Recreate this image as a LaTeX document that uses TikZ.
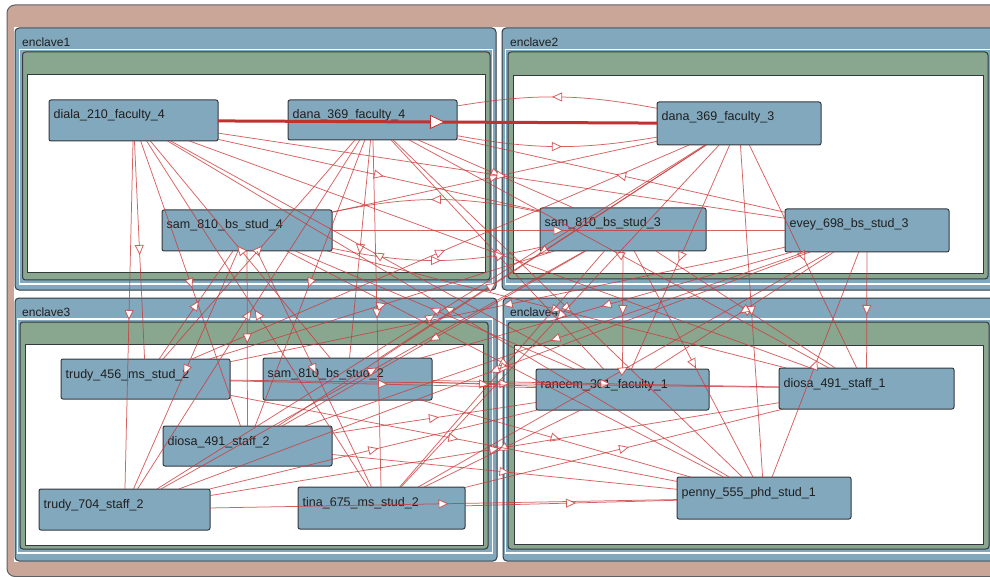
\documentclass[tikz,border=0pt]{standalone}
\usepackage{fontspec}
\setmainfont{Liberation Sans}
\usetikzlibrary{arrows.meta,decorations.markings,calc}

\definecolor{framebrown}{RGB}{201,166,152}
\definecolor{enclblue}{RGB}{130,168,189}
\definecolor{enclgreen}{RGB}{137,167,143}
\definecolor{rimgray}{RGB}{52,57,62}
\definecolor{linkred}{RGB}{204,58,58}
\definecolor{heavyred}{RGB}{192,50,50}

\tikzset{
  x=1pt, y=1pt,
  hostbox/.style={draw=rimgray, fill=enclblue, line width=1pt,
    rounded corners=2pt, inner sep=0pt, outer sep=0pt},
  hosttext/.style={anchor=base west, inner sep=0pt,
    font=\fontsize{12.5}{14}\selectfont, text=black!88},
  encltext/.style={anchor=base west, inner sep=0pt,
    font=\fontsize{12}{14}\selectfont, text=black!88},
  link/.style={draw=linkred, draw opacity=0.8, line width=0.75pt,
    postaction={decorate},
    decoration={markings, mark=at position 0.5 with
      {\arrow[xshift=5pt]{Triangle[fill=white, length=10pt, width=9pt, line width=0.8pt]}}}},
  heavylink/.style={draw=heavyred, line width=3pt,
    postaction={decorate},
    decoration={markings, mark=at position 0.5 with
      {\arrow[xshift=7.5pt]{Triangle[fill=white, length=15pt, width=14pt, line width=0.8pt]}}}},
  bluebox/.style={draw=rimgray, fill=enclblue, line width=1pt, rounded corners=4pt},
  greenbox/.style={draw=rimgray, fill=enclgreen, line width=1pt, rounded corners=3pt},
  innerbox/.style={draw=rimgray, fill=white, line width=1pt},
  insetline/.style={draw=white, line width=1.2pt},
}

% host: name, left, top, right, bottom (pixels from the top-left), caption
\newcommand{\hostnode}[6]{%
  \node[hostbox, minimum width={(#4-#2)*1pt}, minimum height={(#5-#3)*1pt}]
    (#1) at ({(#2+#4)/2},{-(#3+#5)/2}) {};
  \node[hosttext] (#1-cap) at ({#2+4.5},{-#3-19}) {#6};
}

\begin{document}
\begin{tikzpicture}
\useasboundingbox (0,0) rectangle (990,-577);
\clip (0,0) rectangle (990,-577);

% outer frame
\filldraw[fill=framebrown, draw=rimgray!80, line width=1pt, rounded corners=8pt]
  (7,-5) rectangle (1010,-576.5);
\fill[white] (14,-27) rectangle (1010,-562);

% enclave 1
\filldraw[bluebox] (15,-28) rectangle (496,-290);
\draw[insetline] (19.5,-49.5) rectangle (492.5,-284);
\filldraw[greenbox] (22.5,-52) rectangle (490,-280);
\filldraw[innerbox] (27.5,-75) rectangle (485,-273);
\node[encltext] (enc1) at (22,-46.5) {enclave1};

% enclave 2
\filldraw[bluebox] (502,-28) rectangle (1010,-290);
\draw[insetline] (505.5,-49.5) rectangle (1010,-284);
\filldraw[greenbox] (508,-52) rectangle (988,-279);
\filldraw[innerbox] (513,-76) rectangle (983,-274);
\node[encltext] (enc2) at (510,-46.5) {enclave2};

% enclave 3
\filldraw[bluebox] (15,-298) rectangle (497,-561);
\draw[insetline] (17.5,-319) rectangle (492.5,-553);
\filldraw[greenbox] (20,-322) rectangle (488,-549);
\filldraw[innerbox] (25,-344) rectangle (483,-545);
\node[encltext] (enc3) at (22,-316.5) {enclave3};

% enclave 4
\filldraw[bluebox] (503,-298) rectangle (1010,-561);
\draw[insetline] (505.5,-319) rectangle (993,-553);
\filldraw[greenbox] (508,-322) rectangle (989,-549);
\filldraw[innerbox] (514,-345) rectangle (983,-544);
\node[encltext] (enc4) at (510,-316.5) {enclave4};

% hosts
\hostnode{diala4}{49}{100}{218}{141}{diala\_210\_faculty\_4}
\hostnode{dana4}{288}{100}{457}{140}{dana\_369\_faculty\_4}
\hostnode{sam4}{162}{210}{332}{251}{sam\_810\_bs\_stud\_4}
\hostnode{dana3}{657}{102}{821}{145}{dana\_369\_faculty\_3}
\hostnode{sam3}{540}{208}{706}{251}{sam\_810\_bs\_stud\_3}
\hostnode{evey3}{785}{209}{949}{252}{evey\_698\_bs\_stud\_3}
\hostnode{trudy456}{61}{359}{230}{399}{trudy\_456\_ms\_stud\_2}
\hostnode{sam2}{263}{358}{432}{400}{sam\_810\_bs\_stud\_2}
\hostnode{diosa2}{163}{426}{332}{466}{diosa\_491\_staff\_2}
\hostnode{trudy704}{39}{489}{210}{530}{trudy\_704\_staff\_2}
\hostnode{tina2}{298}{487}{465}{529}{tina\_675\_ms\_stud\_2}
\hostnode{raneem1}{536}{369}{709}{410}{raneem\_301\_faculty\_1}
\hostnode{diosa1}{779}{368}{954}{409}{diosa\_491\_staff\_1}
\hostnode{penny1}{677}{477}{851}{519}{penny\_555\_phd\_stud\_1}

% two-way flows, drawn as a pair of arcs
\draw[link] (sam4) to[bend right=12] (sam3);
\draw[link] (sam3) to[bend right=12] (sam4);
\draw[link] (dana4) to[bend right=10] (dana3);
\draw[link] (dana3) to[bend right=10] (dana4);

% one-way flows
\draw[link] (diala4) -- (sam3);
\draw[link] (diala4) -- (trudy456);
\draw[link] (sam2) -- (diala4);
\draw[link] (trudy456) -- (dana4);
\draw[link] (dana4) -- (sam2);
\draw[link] (raneem1) -- (diala4);
\draw[link] (trudy456) -- (dana3);
\draw[link] (diala4) -- (diosa1);
\draw[link] (raneem1) -- (dana4);
\draw[link] (diala4) -- (diosa2);
\draw[link] (dana4) -- (diosa2);
\draw[link] (trudy456) -- (sam4);
\draw[link] (trudy704) -- (dana4);
\draw[link] (tina2) -- (diala4);
\draw[link] (sam4) -- (diosa2);
\draw[link] (dana4) -- (tina2);
\draw[link] (trudy456) -- (sam3);
\draw[link] (penny1) -- (diala4);
\draw[link] (raneem1) -- (sam4);
\draw[link] (trudy704) -- (dana3);
\draw[link] (sam3) -- (diosa2);
\draw[link] (sam4) -- (trudy704);
\draw[link] (sam4) -- (tina2);
\draw[link] (diala4) -- (trudy704);
\draw[link] (trudy704) -- (sam3);
\draw[link] (evey3) -- (dana4);
\draw[link] (diosa1) -- (dana4);
\draw[link] (dana3) -- (raneem1);
\draw[link] (dana3) -- (diosa1);
\draw[link] (evey3) -- (sam2);
\draw[link] (sam3) -- (raneem1);
\draw[link] (diosa1) -- (sam3);
\draw[link] (evey3) -- (raneem1);
\draw[link] (evey3) -- (diosa1);
\draw[link] (tina2) -- (evey3);
\draw[link] (sam3) -- (penny1);
\draw[link] (penny1) -- (evey3);
\draw[link] (sam2) -- (diosa1);
\draw[link] (tina2) -- (diosa1);
\draw[link] (evey3) -- (trudy456);
\draw[link] (sam4) -- (diosa1);
\draw[link] (dana4) -- (penny1);
\draw[link] (dana3) -- (tina2);
\draw[link] (evey3) -- (diosa2);
\draw[link] (sam4) -- (penny1);
\draw[link] (sam3) -- (tina2);
\draw[link] (evey3) -- (trudy704);
\draw[link] (trudy456) -- (diosa1);
\draw[link] (sam2) -- (penny1);
\draw[link] (trudy704) -- (diosa1);
\draw[link] (raneem1) -- (tina2);
\draw[link] (diosa2) -- (penny1);
\draw[link] (trudy704) -- (penny1);
\draw[link] (tina2) -- (penny1);
\draw[link] (sam2) -- (raneem1);
\draw[link] (diosa2) -- (raneem1);
\draw[link] (trudy456) -- (penny1);
\draw[link] (trudy704) -- (raneem1);
\draw[link] (trudy456) -- (raneem1);
\draw[link] (sam4) -- (evey3);
\draw[link] (dana3) -- (sam2);
\draw[link] (diosa2) -- (dana3);
\draw[link] (sam4) -- (dana3);
\draw[link] (dana4) -- (sam3);
\draw[link] (diala4) -- (evey3);
\draw[link] (dana3) -- (penny1);

% the heavy flow
\draw[heavylink] (diala4) -- (dana3);
\end{tikzpicture}
\end{document}
